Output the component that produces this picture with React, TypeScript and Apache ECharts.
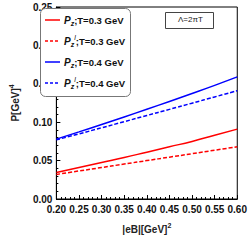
import React, { useEffect, useRef } from "react";
import * as echarts from "echarts";

const eB = [0.2, 0.25, 0.3, 0.35, 0.4, 0.45, 0.5, 0.55, 0.6];
const pzT03 = [0.0345, 0.041, 0.0475, 0.054, 0.061, 0.068, 0.075, 0.083, 0.091];
const pzlT03 = [0.032, 0.0365, 0.041, 0.0455, 0.05, 0.0545, 0.059, 0.0635, 0.068];
const pzT04 = [0.078, 0.0874, 0.097, 0.1068, 0.1168, 0.127, 0.1374, 0.148, 0.159];
const pzlT04 = [0.077, 0.0848, 0.0927, 0.1007, 0.1087, 0.1167, 0.1248, 0.1329, 0.141];
const seriesNames = ["Pz;T=0.3 GeV", "Pzl;T=0.3 GeV", "Pz;T=0.4 GeV", "Pzl;T=0.4 GeV"];
const legendLabels = [
  "{p|P}{s|z}{t|;T=0.3 GeV}",
  "{p|P}{s|z}{u|l}{t|;T=0.3 GeV}",
  "{p|P}{s|z}{t|;T=0.4 GeV}",
  "{p|P}{s|z}{u|l}{t|;T=0.4 GeV}",
];
const colors = ["#ff0000", "#ff0000", "#0000ff", "#0000ff"];
const dashedFlags = [false, true, false, true];

const FONT = "Liberation Sans, Arial, sans-serif";

export default function App() {
  const ref = useRef<HTMLDivElement>(null);
  useEffect(() => {
    if (!ref.current) return;
    const chart = echarts.init(ref.current, null, { renderer: "svg" });
    const mk = (name: string, ys: number[], color: string, dashed: boolean) => ({
      name,
      type: "line",
      smooth: true,
      showSymbol: false,
      symbol: "none",
      data: eB.map((x, i) => [x, ys[i]]),
      lineStyle: { color, width: 1.5, type: dashed ? [4, 2] : "solid" },
      itemStyle: { color },
    });
    const rich = {
      p: { fontSize: 10, fontWeight: "bold", fontStyle: "italic", fontFamily: FONT, fill: "#111", verticalAlign: "middle" },
      s: { fontSize: 7, fontWeight: "bold", fontStyle: "italic", fontFamily: FONT, fill: "#111", verticalAlign: "bottom" },
      u: { fontSize: 7, fontStyle: "italic", fontFamily: FONT, fill: "#111", verticalAlign: "top" },
      t: { fontSize: 9.5, fontWeight: "bold", fontFamily: FONT, fill: "#111", verticalAlign: "middle" },
    };
    const legendGraphics: any[] = [
      {
        type: "rect", left: 40, top: 8, z: 10,
        shape: { width: 90, height: 88, r: 5 },
        style: { fill: "#fff", stroke: "#777", lineWidth: 1 },
      },
    ];
    seriesNames.forEach((_, i) => {
      const y = 20 + i * 21;
      legendGraphics.push({
        type: "line", z: 11,
        shape: { x1: 45, y1: y, x2: 60, y2: y },
        style: { stroke: colors[i], lineWidth: 1.5, lineDash: dashedFlags[i] ? [3, 2] : null },
      });
      legendGraphics.push({
        type: "text", x: 64, y: y, z: 11,
        style: {
          text: legendLabels[i], rich, lineHeight: 14,
          verticalAlign: "middle", align: "left", fontFamily: FONT,
        },
      });
    });
    const nameRich = {
      a: { fontSize: 10, fontWeight: "bold", fontFamily: FONT, color: "#222" },
      b: { fontSize: 7, fontWeight: "bold", fontFamily: FONT, color: "#222", verticalAlign: "top" },
    };
    chart.setOption({
      animation: false,
      textStyle: { fontFamily: FONT },
      grid: {
        left: 39, top: 7, width: 201, height: 200,
        show: true, borderColor: "#000", borderWidth: 1, backgroundColor: "transparent",
      },
      xAxis: {
        type: "value", min: 0.2, max: 0.6, interval: 0.05,
        name: "{a||eB|[GeV]}{b|2}", nameLocation: "middle", nameGap: 23,
        nameTextStyle: { rich: nameRich, lineHeight: 14 },
        axisLine: { show: true, lineStyle: { color: "#000", width: 1 } },
        axisTick: { show: true, inside: true, length: 4, lineStyle: { color: "#000" } },
        minorTick: { show: true, splitNumber: 5, length: 2, lineStyle: { color: "#000" } },
        splitLine: { show: false },
        axisLabel: {
          color: "#111", fontSize: 10, fontWeight: "bold", fontFamily: FONT, margin: 5,
          formatter: (v: number) => v.toFixed(2),
        },
      },
      yAxis: {
        type: "value", min: 0, max: 0.25, interval: 0.05,
        name: "{a|P[GeV]}{b|4}", nameLocation: "middle", nameGap: 27,
        nameTextStyle: { rich: nameRich, lineHeight: 14 },
        axisLine: { show: true, lineStyle: { color: "#000", width: 1 } },
        axisTick: { show: true, inside: true, length: 4, lineStyle: { color: "#000" } },
        minorTick: { show: true, splitNumber: 5, length: 2, lineStyle: { color: "#000" } },
        splitLine: { show: false },
        axisLabel: {
          color: "#111", fontSize: 10, fontWeight: "bold", fontFamily: FONT, margin: 4,
          formatter: (v: number) => v.toFixed(2),
        },
      },
      graphic: [
        ...legendGraphics,
        {
          type: "rect", left: 165, top: 12, z: 10,
          shape: { width: 48, height: 16 },
          style: { fill: "#fff", stroke: "#444", lineWidth: 1 },
        },
        {
          type: "text", left: 178, top: 15, z: 11,
          style: { text: "Λ=2πT", fontSize: 8, fontFamily: FONT, fill: "#222" },
        },
      ],
      series: [
        mk(seriesNames[0], pzT03, colors[0], dashedFlags[0]),
        mk(seriesNames[1], pzlT03, colors[1], dashedFlags[1]),
        mk(seriesNames[2], pzT04, colors[2], dashedFlags[2]),
        mk(seriesNames[3], pzlT04, colors[3], dashedFlags[3]),
      ],
    });
    return () => chart.dispose();
  }, []);
  return <div ref={ref} style={{ width: 250, height: 241, position: "absolute", left: 0, top: 0 }} />;
}
